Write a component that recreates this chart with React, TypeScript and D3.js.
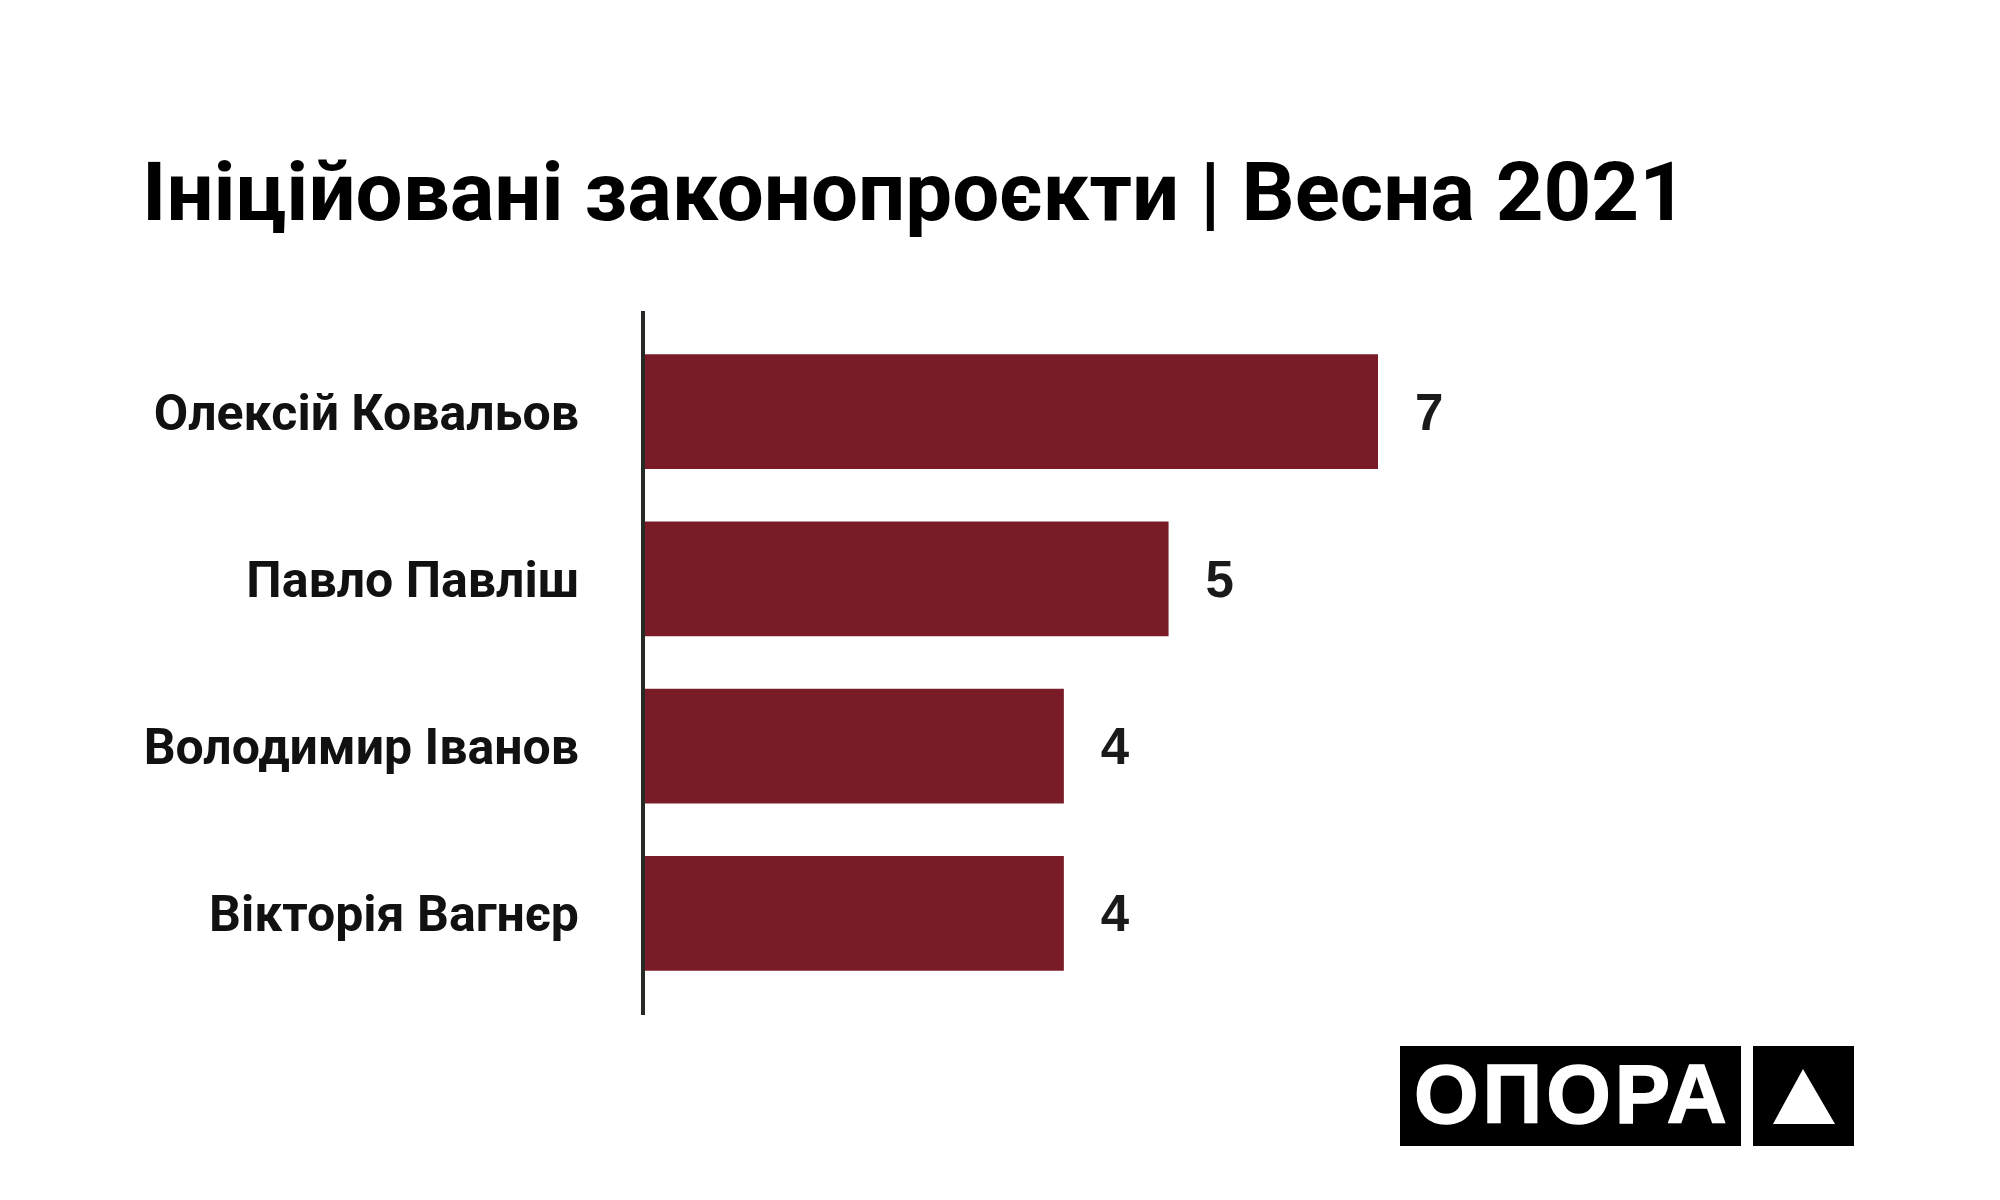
import React from "react";
import * as d3 from "d3";

// data
const names = ["Олексій Ковальов", "Павло Павліш", "Володимир Іванов", "Вікторія Вагнєр"];
const values = [7, 5, 4, 4];
const title = "Ініційовані законопроєкти | Весна 2021";
const logoText = "ОПОРА";

const W = 2000;
const H = 1200;
const barColor = "#7a1c28";

export default function App() {
  const x = d3.scaleLinear().domain([0, 7]).range([645, 1378]);
  const y = d3
    .scaleBand<string>()
    .domain(names)
    .range([328, 997])
    .paddingInner(0.314)
    .paddingOuter(0.157);

  const font = "Roboto, 'Open Sans', sans-serif";

  return (
    <svg
      width={W}
      height={H}
      style={{ position: "absolute", left: 0, top: 0, background: "#fff" }}
    >
      <rect width={W} height={H} fill="#fff" />
      <text
        x={142}
        y={220}
        fontFamily={font}
        fontWeight={700}
        fontSize={82}
        textLength={1545}
        lengthAdjust="spacingAndGlyphs"
        fill="#000"
      >
        {title}
      </text>

      {names.map((n, i) => {
        const cy = (y(n) as number) + y.bandwidth() / 2;
        return (
          <g key={n}>
            <rect
              x={x(0)}
              y={y(n)}
              width={x(values[i]) - x(0)}
              height={y.bandwidth()}
              fill={barColor}
            />
            <text
              x={579}
              y={cy + 18}
              textAnchor="end"
              fontFamily={font}
              fontWeight={700}
              fontSize={50}
              fill="#111"
            >
              {n}
            </text>
            <text
              x={x(values[i]) + 37}
              y={cy + 18}
              fontFamily="'Liberation Sans', Arial, sans-serif"
              fontWeight={700}
              fontSize={51}
              fill="#1a1a1a"
            >
              {values[i]}
            </text>
          </g>
        );
      })}

      <line x1={643} x2={643} y1={311} y2={1015} stroke="#262924" strokeWidth={4} />

      {/* logo */}
      <rect x={1400} y={1046} width={341} height={100} fill="#000" />
      <rect x={1753} y={1046} width={101} height={100} fill="#000" />
      <text
        x={1414}
        y={1123}
        fontFamily="'Liberation Sans', Arial, sans-serif"
        fontWeight={700}
        fontSize={83}
        letterSpacing={4}
        stroke="#fff"
        strokeWidth={1.5}
        fill="#fff"
      >
        {logoText}
      </text>
      <path d="M1803,1069 L1835,1124 L1773,1124 Z" fill="#fff" />
    </svg>
  );
}
